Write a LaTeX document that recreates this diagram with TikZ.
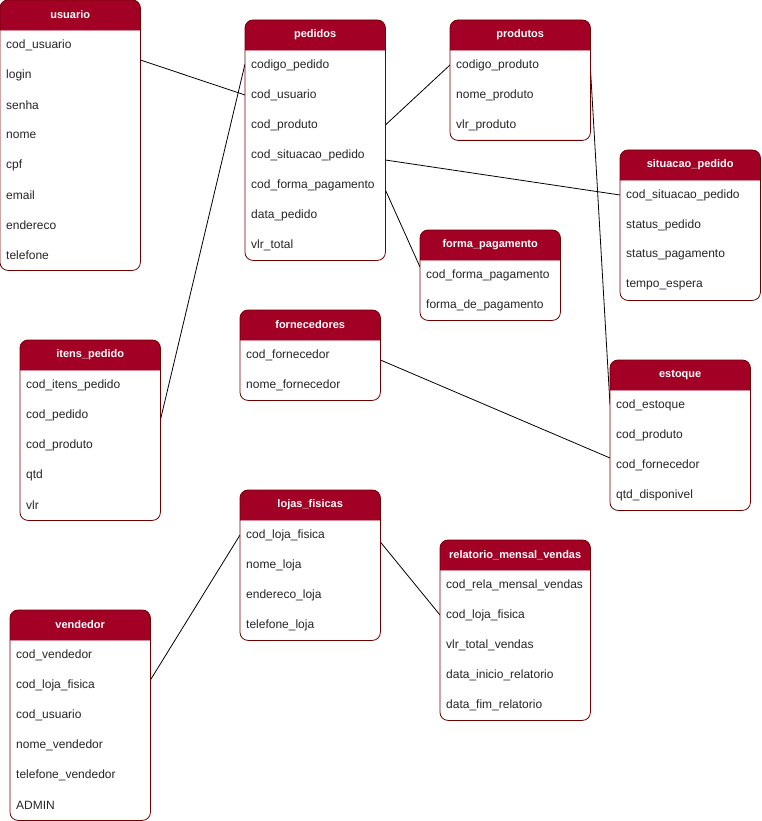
\documentclass[tikz,border=0pt]{standalone}
\usepackage{fontspec}
\setmainfont{Liberation Sans}
\usetikzlibrary{backgrounds}
\definecolor{hdr}{HTML}{A20025}
\definecolor{bord}{HTML}{6F0000}
\tikzset{
 conn/.style={draw=black, line width=0.8pt},
 tbody/.style={draw=none, fill=white, rectangle, rounded corners=8pt, inner sep=0pt},
 ttitle/.style={text=white, font=\fontsize{11}{13}\selectfont\bfseries, inner sep=0pt},
 tfield/.style={text=black!85, font=\fontsize{12}{14}\selectfont, inner sep=0pt, anchor=west},
}
\newcommand{\ertable}[7]{%
 \node[tbody, minimum width=#4pt, minimum height={(30+30*#5)*1pt}, anchor=north west] (#1) at (#2pt,-#3pt) {};
 \fill[hdr] ([yshift=-30pt]#1.north west) {[rounded corners=8pt] -- (#1.north west) -- (#1.north east)} -- ([yshift=-30pt]#1.north east) -- cycle;
 \draw[hdr!45, line width=0.8pt] ([yshift=-30pt]#1.north west) -- ([yshift=-30pt]#1.north east);
 \draw[bord, line width=0.8pt, rounded corners=8pt] (#1.north west) rectangle (#1.south east);
 \node[ttitle] (#1-title) at ([yshift=-15pt]#1.north) {#6};
 \foreach \f [count=\i] in {#7} \node[tfield] (#1-\i) at ([xshift=6pt,yshift={-15pt-30pt*\i}]#1.north west) {\f};
}
\begin{document}
\begin{tikzpicture}
\useasboundingbox (0pt,0pt) rectangle (761pt,-821pt);
\ertable{usuario}{0}{0}{140}{8}{usuario}{cod\_usuario,login,senha,nome,cpf,email,endereco,telefone}
\ertable{pedidos}{245}{20}{140}{7}{pedidos}{codigo\_pedido,cod\_usuario,cod\_produto,cod\_situacao\_pedido,cod\_forma\_pagamento,data\_pedido,vlr\_total}
\ertable{produtos}{450}{20}{140}{3}{produtos}{codigo\_produto,nome\_produto,vlr\_produto}
\ertable{situacao}{620}{150}{140}{4}{situacao\_pedido}{cod\_situacao\_pedido,status\_pedido,status\_pagamento,tempo\_espera}
\ertable{forma}{420}{230}{140}{2}{forma\_pagamento}{cod\_forma\_pagamento,forma\_de\_pagamento}
\ertable{fornecedores}{240}{310}{140}{2}{fornecedores}{cod\_fornecedor,nome\_fornecedor}
\ertable{estoque}{610}{360}{140}{4}{estoque}{cod\_estoque,cod\_produto,cod\_fornecedor,qtd\_disponivel}
\ertable{itens}{20}{340}{140}{5}{itens\_pedido}{cod\_itens\_pedido,cod\_pedido,cod\_produto,qtd,vlr}
\ertable{lojas}{240}{490}{140}{4}{lojas\_fisicas}{cod\_loja\_fisica,nome\_loja,endereco\_loja,telefone\_loja}
\ertable{relatorio}{440}{540}{150}{5}{relatorio\_mensal\_vendas}{cod\_rela\_mensal\_vendas,cod\_loja\_fisica,vlr\_total\_vendas,data\_inicio\_relatorio,data\_fim\_relatorio}
\ertable{vendedor}{10}{610}{140}{6}{vendedor}{cod\_vendedor,cod\_loja\_fisica,cod\_usuario,nome\_vendedor,telefone\_vendedor,ADMIN}
\begin{pgfonlayer}{background}
\draw[conn] ([yshift=-60pt]usuario.north east) -- ([yshift=-75pt]pedidos.north west);
\draw[conn] ([yshift=-80pt]itens.north east) -- ([yshift=-44pt]pedidos.north west);
\draw[conn] ([yshift=-105pt]pedidos.north east) -- ([yshift=-45pt]produtos.north west);
\draw[conn] ([yshift=-140pt]pedidos.north east) -- ([yshift=-45pt]situacao.north west);
\draw[conn] ([yshift=-170pt]pedidos.north east) -- ([yshift=-37pt]forma.north west);
\draw[conn] ([yshift=-48pt]produtos.north east) -- ([yshift=-45pt]estoque.north west);
\draw[conn] ([yshift=-50pt]fornecedores.north east) -- ([yshift=-98pt]estoque.north west);
\draw[conn] ([yshift=-52pt]lojas.north east) -- ([yshift=-75pt]relatorio.north west);
\draw[conn] ([yshift=-70pt]vendedor.north east) -- ([yshift=-45pt]lojas.north west);
\end{pgfonlayer}
\end{tikzpicture}
\end{document}
